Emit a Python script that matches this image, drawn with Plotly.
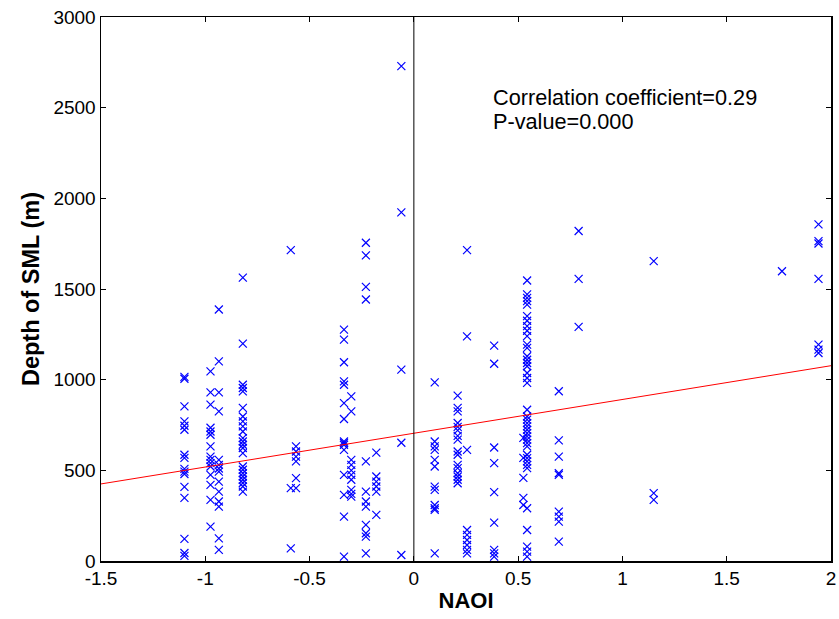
import plotly.graph_objects as go

# NAOI value of each column of points and the SML depths (m) read at that NAOI
naoi_columns = [-1.10, -0.975, -0.935, -0.82, -0.59, -0.565, -0.335, -0.30,
                -0.23, -0.18, -0.06, 0.10, 0.21, 0.255, 0.385, 0.525, 0.543,
                0.695, 0.79, 1.15, 1.765, 1.94]
depth_columns = [
    [1015, 1005, 853, 770, 746, 724, 586, 569, 508, 493, 480, 409, 348, 122, 44, 28],
    [1046, 930, 862, 735, 714, 696, 632, 576, 558, 540, 521, 475, 420, 337, 190],
    [1387, 1101, 930, 825, 558, 530, 510, 493, 438, 383, 328, 300, 125, 61],
    [1563, 1199, 972, 954, 935, 844, 797, 770, 742, 714, 678, 659, 641, 623, 595,
     521, 503, 484, 466, 448, 430, 411, 383],
    [1714, 402, 70],
    [632, 604, 576, 549, 457, 402],
    [1276, 1221, 1096, 991, 972, 871, 783, 659, 650, 641, 613, 475, 365, 245, 24],
    [908, 825, 558, 530, 500, 475, 448, 392, 370, 355],
    [1755, 1685, 1512, 1442, 549, 383, 328, 300, 199, 153, 134, 42],
    [598, 466, 438, 411, 383, 254],
    [2729, 1923, 1055, 652, 33],
    [985, 659, 632, 613, 558, 521, 410, 392, 309, 291, 282, 42],
    [912, 844, 825, 761, 740, 720, 690, 669, 604, 586, 530, 512, 484, 466, 448, 429],
    [1714, 1239, 613, 171, 144, 116, 88, 61, 42],
    [1188, 1088, 626, 540, 380, 212, 61, 42, 24],
    [679, 569, 458, 348, 309],
    [1547, 1470, 1451, 1433, 1414, 1350, 1325, 1295, 1270, 1240, 1193, 1175, 1129,
     1110, 1092, 1074, 1037, 1009, 982, 834, 797, 780, 760, 742, 724, 705, 687, 669,
     650, 632, 586, 567, 549, 530, 512, 291, 171, 79, 52, 24],
    [936, 665, 576, 484, 475, 272, 245, 217, 107],
    [1820, 1556, 1291],
    [1654, 374, 337],
    [1598],
    [1856, 1764, 1751, 1556, 1193, 1166, 1147],
]

# regression line end points
fit_x = [-1.5, 2.0]
fit_y = [425, 1077]

x_ticks = [-1.5, -1, -0.5, 0, 0.5, 1, 1.5, 2]
x_tick_labels = ["-1.5", "-1", "-0.5", "0", "0.5", "1", "1.5", "2"]
y_ticks = [0, 500, 1000, 1500, 2000, 2500, 3000]
y_tick_labels = ["0", "500", "1000", "1500", "2000", "2500", "3000"]

annotation_lines = ["Correlation coefficient=0.29", "P-value=0.000"]
annotation_y = [2558, 2425]

xs, ys = [], []
for xv, col in zip(naoi_columns, depth_columns):
    for d in col:
        xs.append(xv)
        ys.append(d)

FONT = "Liberation Sans, Arial"

fig = go.Figure()
fig.add_trace(go.Scatter(
    x=xs, y=ys, mode="markers",
    marker=dict(symbol="x-thin", size=8, color="#0000FF",
                line=dict(width=1.2, color="#0000FF")),
    showlegend=False, hoverinfo="skip"))
fig.add_trace(go.Scatter(
    x=fit_x, y=fit_y, mode="lines",
    line=dict(color="#FF0000", width=1),
    showlegend=False, hoverinfo="skip"))

fig.add_vline(x=0, line_color="black", line_width=1)

for txt, yv in zip(annotation_lines, annotation_y):
    fig.add_annotation(
        x=0.37, y=yv, xref="x", yref="y", xanchor="left", yanchor="middle",
        text=txt, showarrow=False, align="left",
        font=dict(family=FONT, size=21.7, color="black"))

axis_common = dict(
    showline=True, linecolor="black", linewidth=1.5, mirror="ticks",
    ticks="inside", ticklen=5, tickcolor="black", tickwidth=1,
    showgrid=False, zeroline=False, ticklabeloverflow="allow",
    tickfont=dict(family=FONT, size=19, color="black"),
)

fig.update_layout(
    width=839, height=619,
    margin=dict(l=101, r=3, t=17, b=58),
    paper_bgcolor="white", plot_bgcolor="white",
    xaxis=dict(range=[-1.5, 2], tickvals=x_ticks, ticktext=x_tick_labels,
               title=dict(text="<b>NAOI</b>", standoff=4,
                          font=dict(family=FONT, size=22, color="black")),
               **axis_common),
    yaxis=dict(range=[0, 3000], tickvals=y_ticks, ticktext=y_tick_labels,
               title=dict(text="<b>Depth of SML (m)</b>", standoff=7,
                          font=dict(family=FONT, size=23.5, color="black")),
               **axis_common),
)

# remove the default page margin so the figure sits at the window's top-left corner
fig.write_html("out.html",
               config={"displayModeBar": False, "staticPlot": True},
               post_script="document.body.style.margin='0px';document.body.style.overflow='hidden';")
